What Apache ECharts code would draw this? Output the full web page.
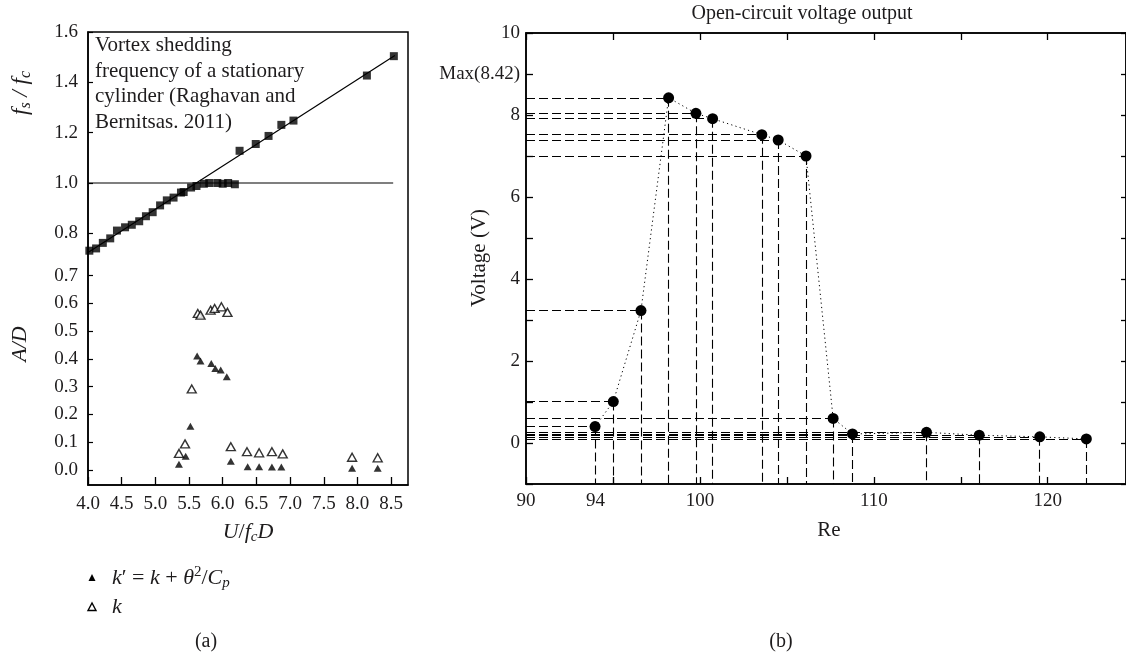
<!DOCTYPE html>
<html><head><meta charset="utf-8">
<script src="https://cdn.jsdelivr.net/npm/echarts@6/dist/echarts.min.js"></script>
<style>html,body{margin:0;padding:0;background:#fff}#c{width:1126px;height:658px}</style>
</head><body><div id="c"></div>
<script>
const FONT = '"Liberation Serif", "DejaVu Serif", serif';
const INK = '#1e1c1d';

// ---- panel (a) ----
const fsU = [4.02,4.12,4.22,4.33,4.43,4.55,4.65,4.76,4.86,4.96,5.07,5.17,5.27,5.38,5.42,5.53,5.61,5.72,5.80,5.92,6.00,6.08,6.18,6.25,6.49,6.68,6.87,7.05,8.14,8.54];
const fsVal = [0.731,0.740,0.762,0.780,0.811,0.824,0.834,0.848,0.868,0.884,0.911,0.931,0.942,0.962,0.964,0.982,0.988,0.997,1.0,1.0,0.997,1.0,0.995,1.128,1.155,1.187,1.231,1.248,1.427,1.504];
const fitU = [4.0, 8.555];
const fitVal = [0.724, 1.507];
const refU = [4.0, 8.53];
const refVal = [1.0, 1.0];
const kpU = [5.35,5.45,5.52,5.62,5.67,5.83,5.89,5.97,6.06,6.12,6.37,6.54,6.73,6.87,7.92,8.30];
const kpAD = [0.021,0.050,0.158,0.411,0.393,0.384,0.366,0.360,0.336,0.032,0.012,0.012,0.011,0.011,0.006,0.006];
const kU = [5.35,5.44,5.54,5.63,5.67,5.82,5.88,5.98,6.07,6.12,6.36,6.54,6.73,6.89,7.92,8.30];
const kAD = [0.060,0.094,0.292,0.564,0.558,0.576,0.582,0.588,0.568,0.084,0.066,0.062,0.066,0.058,0.046,0.044];
const uTicks = [4.0,4.5,5.0,5.5,6.0,6.5,7.0,7.5,8.0,8.5];
const fsTicks = [0.8,1.0,1.2,1.4,1.6];
const adTicks = [0.0,0.1,0.2,0.3,0.4,0.5,0.6,0.7];

// ---- panel (b) ----
const reVals = [93.97,95.02,96.61,98.2,99.77,100.73,103.56,104.5,106.1,107.66,108.77,113.03,116.06,119.54,122.22];
const voltVals = [0.40,1.01,3.23,8.42,8.04,7.91,7.52,7.39,7.00,0.60,0.22,0.26,0.19,0.15,0.10];
const reLabels = [90,94,100,110,120];
const reTicks = [90,95,100,105,110,115,120];
const vLabels = [0,2,4,6,8,9,10];
const maxTickValue = 9;
const maxLabelText = 'Max(8.42)';

const zip = (a, b) => a.map((v, i) => [v, b[i]]);
const chart = echarts.init(document.getElementById('c'), null, {renderer: 'canvas'});
const lbl = {fontFamily: FONT, fontSize: 19, color: INK};
const axLine = {onZero: false, lineStyle: {color: '#000', width: 1.5}};

const dropLines = [];
reVals.forEach((r, i) => {
  dropLines.push([{coord: [90, voltVals[i]]}, {coord: [r, voltVals[i]]}]);
  dropLines.push([{coord: [r, voltVals[i]]}, {coord: [r, -1]}]);
});

const option = {
  animation: false,
  backgroundColor: '#fff',
  grid: [
    {left: 88, top: 32, width: 320, height: 453, show: true, borderColor: '#000', borderWidth: 1.5, backgroundColor: 'transparent'},
    {left: 526, top: 33, width: 601, height: 451, show: true, borderColor: '#000', borderWidth: 1.5, backgroundColor: 'transparent'}
  ],
  xAxis: [
    {gridIndex: 0, type: 'value', min: 4, max: 8.75, axisLine: axLine,
     axisTick: {inside: true, length: 8, lineStyle: {color: '#000', width: 1.3}, customValues: uTicks},
     axisLabel: Object.assign({margin: 10, customValues: uTicks, formatter: v => v.toFixed(1)}, lbl),
     splitLine: {show: false}},
    {gridIndex: 1, type: 'value', min: 90, max: 124.5, axisLine: axLine,
     axisTick: {inside: true, length: 7, lineStyle: {color: '#000', width: 1.3}, customValues: reTicks},
     axisLabel: Object.assign({margin: 8, customValues: reLabels}, lbl),
     splitLine: {show: false}},
    {gridIndex: 1, type: 'value', position: 'top', min: 90, max: 124.5, axisLine: axLine,
     axisTick: {inside: true, length: 7, lineStyle: {color: '#000', width: 1.3}, customValues: reTicks},
     axisLabel: {show: false}, splitLine: {show: false}}
  ],
  yAxis: [
    {gridIndex: 0, type: 'value', position: 'left', min: -0.2, max: 1.6, axisLine: axLine,
     axisTick: {inside: true, length: 5, lineStyle: {color: '#000', width: 1.2}, customValues: fsTicks},
     axisLabel: Object.assign({margin: 10, customValues: fsTicks, formatter: v => v.toFixed(1)}, lbl),
     splitLine: {show: false}},
    {gridIndex: 0, type: 'value', position: 'left', min: -0.054, max: 1.578, axisLine: {show: false, onZero: false},
     axisTick: {inside: true, length: 5, lineStyle: {color: '#000', width: 1.2}, customValues: adTicks},
     axisLabel: Object.assign({margin: 10, customValues: adTicks, formatter: v => v.toFixed(1)}, lbl),
     splitLine: {show: false}},
    {gridIndex: 1, type: 'value', position: 'left', min: -1, max: 10, interval: 1, axisLine: axLine,
     axisTick: {inside: true, length: 7, lineStyle: {color: '#000', width: 1.3}},
     axisLabel: Object.assign({margin: 6, customValues: vLabels, formatter: v => v === maxTickValue ? maxLabelText : String(v)}, lbl),
     splitLine: {show: false}},
    {gridIndex: 1, type: 'value', position: 'right', min: -1, max: 10, interval: 1, axisLine: axLine,
     axisTick: {inside: true, length: 5, lineStyle: {color: '#000', width: 1.3}},
     axisLabel: {show: false}, splitLine: {show: false}}
  ],
  series: [
    {type: 'line', xAxisIndex: 0, yAxisIndex: 0, data: zip(fitU, fitVal), symbol: 'none',
     lineStyle: {color: '#000', width: 1.2}, z: 2},
    {type: 'line', xAxisIndex: 0, yAxisIndex: 0, data: zip(refU, refVal), symbol: 'none',
     lineStyle: {color: '#000', width: 1.2}, z: 2},
    {type: 'scatter', xAxisIndex: 0, yAxisIndex: 0, data: zip(fsU, fsVal), symbol: 'rect', symbolSize: 8,
     itemStyle: {color: '#000'}, z: 3},
    {type: 'scatter', xAxisIndex: 0, yAxisIndex: 1, data: zip(kpU, kpAD), symbol: 'triangle', symbolSize: [8, 7],
     itemStyle: {color: '#000'}, z: 3},
    {type: 'scatter', xAxisIndex: 0, yAxisIndex: 1, data: zip(kU, kAD), symbol: 'triangle', symbolSize: [9, 8],
     itemStyle: {color: '#fff', borderColor: '#000', borderWidth: 1.4}, z: 3},
    {type: 'line', xAxisIndex: 1, yAxisIndex: 2, data: zip(reVals, voltVals), symbol: 'circle', symbolSize: 11,
     itemStyle: {color: '#000'}, lineStyle: {color: '#000', width: 1, type: [1.2, 3.2]}, z: 3,
     markLine: {silent: true, symbol: ['none', 'none'], label: {show: false},
       lineStyle: {color: '#000', width: 1.1, type: [9, 4]}, data: dropLines, z: 2}}
  ],
  graphic: [
    {type: 'text', left: 95, top: 33, style: {text: 'Vortex shedding\nfrequency of a stationary\ncylinder (Raghavan and\nBernitsas. 2011)',
      font: '21px ' + FONT, fill: INK, lineHeight: 25.5}},
    {type: 'text', x: 21, y: 93, rotation: Math.PI / 2, style: {
      text: '{i|f}{sub|s}{n| / }{i|f}{sub|c}', align: 'center', verticalAlign: 'middle', fill: INK,
      rich: {i: {fontFamily: FONT, fontStyle: 'italic', fontSize: 23, lineHeight: 26, fill: INK},
             n: {fontFamily: FONT, fontStyle: 'italic', fontSize: 23, lineHeight: 26, fill: INK},
             sub: {fontFamily: FONT, fontStyle: 'italic', fontSize: 16, lineHeight: 15, verticalAlign: 'bottom', fill: INK}}}},
    {type: 'text', x: 20, y: 344, rotation: Math.PI / 2, style: {
      text: 'A/D', align: 'center', verticalAlign: 'middle', font: 'italic 22px ' + FONT, fill: INK}},
    {type: 'text', x: 248, y: 532, style: {
      text: '{i|U}{n|/}{i|f}{sub|c}{i|D}', align: 'center', verticalAlign: 'middle', fill: INK,
      rich: {i: {fontFamily: FONT, fontStyle: 'italic', fontSize: 22, lineHeight: 26, fill: INK},
             n: {fontFamily: FONT, fontSize: 22, lineHeight: 26, fill: INK},
             sub: {fontFamily: FONT, fontStyle: 'italic', fontSize: 15, lineHeight: 15, verticalAlign: 'bottom', fill: INK}}}},
    {type: 'polygon', shape: {points: [[92, 574], [88.5, 581], [95.5, 581]]}, style: {fill: '#000'}},
    {type: 'polygon', shape: {points: [[92, 603], [88, 610.5], [96, 610.5]]}, style: {fill: '#fff', stroke: '#000', lineWidth: 1.4}},
    {type: 'text', x: 112, y: 578, style: {
      text: '{i|k}{n|′ = }{i|k}{n| + }{i|θ}{sup|2}{n|/}{i|C}{sub|p}', verticalAlign: 'middle', fill: INK,
      rich: {i: {fontFamily: FONT, fontStyle: 'italic', fontSize: 22, lineHeight: 26, fill: INK},
             n: {fontFamily: FONT, fontSize: 22, lineHeight: 26, fill: INK},
             sup: {fontFamily: FONT, fontSize: 15, lineHeight: 15, verticalAlign: 'top', fill: INK},
             sub: {fontFamily: FONT, fontStyle: 'italic', fontSize: 15, lineHeight: 15, verticalAlign: 'bottom', fill: INK}}}},
    {type: 'text', x: 112, y: 607, style: {text: 'k', verticalAlign: 'middle', font: 'italic 22px ' + FONT, fill: INK}},
    {type: 'text', x: 206, y: 642, style: {text: '(a)', align: 'center', verticalAlign: 'middle', font: '20px ' + FONT, fill: INK}},
    {type: 'text', x: 781, y: 642, style: {text: '(b)', align: 'center', verticalAlign: 'middle', font: '20px ' + FONT, fill: INK}},
    {type: 'text', x: 802, y: 14, style: {text: 'Open-circuit voltage output', align: 'center', verticalAlign: 'middle', font: '20px ' + FONT, fill: INK}},
    {type: 'text', x: 479, y: 258, rotation: Math.PI / 2, style: {text: 'Voltage (V)', align: 'center', verticalAlign: 'middle', font: '21px ' + FONT, fill: INK}},
    {type: 'text', x: 829, y: 530, style: {text: 'Re', align: 'center', verticalAlign: 'middle', font: '21px ' + FONT, fill: INK}}
  ]
};
chart.setOption(option);
</script>
</body></html>
